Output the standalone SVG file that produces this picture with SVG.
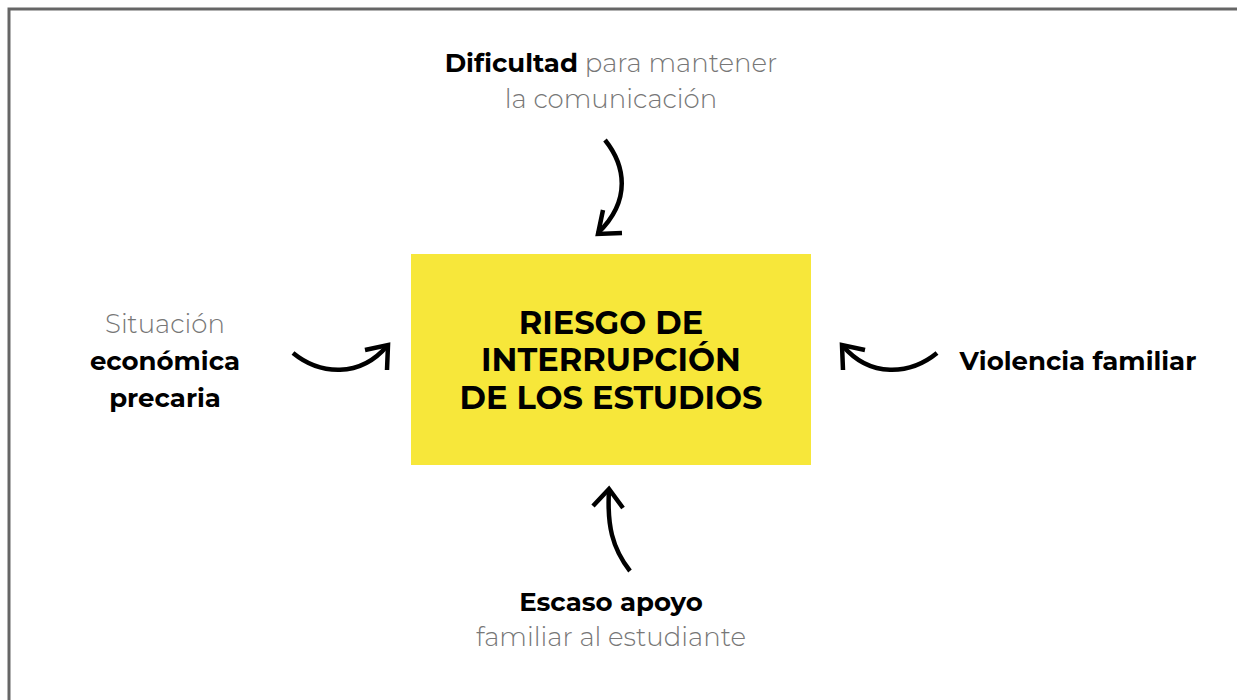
<svg xmlns="http://www.w3.org/2000/svg" width="1237" height="700" viewBox="0 0 1237 700">
<style>
.t{font-family:"Montserrat","Open Sans","Liberation Sans",sans-serif;font-size:26px;text-anchor:middle}
.b{font-weight:700;fill:#000}
.l{font-weight:300;fill:#777}
.c{font-family:"Montserrat","Open Sans","Liberation Sans",sans-serif;font-size:32px;font-weight:700;text-anchor:middle;fill:#000}
.a{fill:none;stroke:#000;stroke-width:4.5;stroke-linecap:butt;stroke-linejoin:miter}
</style>
<rect width="1237" height="700" fill="#fff"/>
<path d="M9,700 V9 H1237" fill="none" stroke="#666" stroke-width="3"/>
<g id="center">
<rect x="411" y="254" width="400" height="211" fill="#F7E73A"/>
<text class="c" x="611" y="334">RIESGO DE</text>
<text class="c" x="611" y="371">INTERRUPCIÓN</text>
<text class="c" x="611" y="409">DE LOS ESTUDIOS</text>
</g>
<g id="top">
<text class="t" x="611" y="72"><tspan class="b">Dificultad</tspan><tspan class="l"> para mantener</tspan></text>
<text class="t l" x="611" y="108">la comunicación</text>
</g>
<g id="left">
<text class="t l" x="165" y="333">Situación</text>
<text class="t b" x="165" y="370">económica</text>
<text class="t b" x="165" y="407">precaria</text>
</g>
<g id="right">
<text class="t b" x="1078" y="370">Violencia familiar</text>
</g>
<g id="bottom">
<text class="t b" x="611" y="611">Escaso apoyo</text>
<text class="t l" x="611" y="646">familiar al estudiante</text>
</g>
<g id="connectors">
<path class="a" d="M605,140 C625,165 632,200 598,233"/>
<path class="a" d="M603,210 L598,234 L622,233"/>
<path class="a" d="M293,353 C320,375 360,378 387,346"/>
<path class="a" d="M365,350 L388,345 L387,370"/>
<path class="a" d="M937,353 C910,375 870,378 843,346"/>
<path class="a" d="M865,350 L842,345 L843,370"/>
<path class="a" d="M630,571 C612,548 607,525 609,490"/>
<path class="a" d="M593,506 L609,489 L623,508"/>
</g>
</svg>
